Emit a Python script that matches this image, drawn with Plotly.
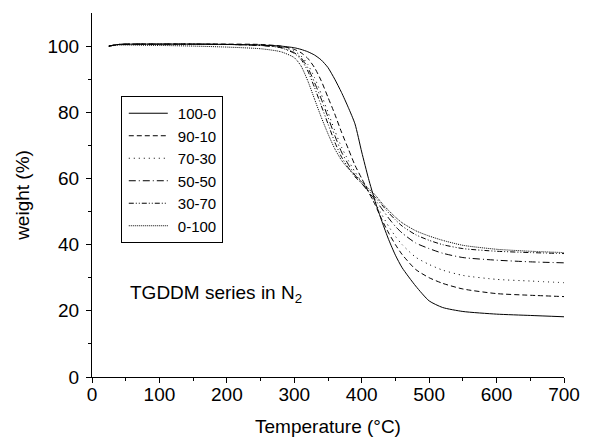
import plotly.graph_objects as go

temperature = [25, 40, 100, 150, 200, 250, 280, 300, 310, 320, 330, 340, 350, 360, 370, 380, 390,
               400, 410, 420, 430, 440, 450, 460, 480, 500, 520, 550, 600, 650, 700]

w_100_0 = [100.0, 100.5, 100.6, 100.6, 100.5, 100.3, 100.0, 99.5, 99.0, 98.3, 97.3, 95.8, 93.5, 90.0,
           86.0, 81.5, 76.5, 68.0, 60.0, 53.0, 47.0, 41.5, 36.8, 33.0, 27.5, 23.0, 21.0, 19.8, 19.0, 18.6, 18.2]
w_90_10 = [100.0, 100.5, 100.6, 100.6, 100.6, 100.5, 100.0, 99.0, 98.0, 96.3, 93.5, 89.5, 84.5, 79.5,
           74.0, 69.0, 64.0, 60.0, 56.0, 52.0, 47.5, 43.5, 40.0, 37.0, 32.5, 30.0, 28.3, 26.6, 25.2, 24.7, 24.3]
w_70_30 = [100.0, 100.5, 100.6, 100.6, 100.5, 100.3, 99.8, 98.5, 97.0, 94.5, 90.5, 85.5, 80.0, 74.5,
           69.5, 65.5, 62.0, 59.0, 56.0, 52.5, 49.0, 45.5, 42.5, 40.0, 36.2, 34.0, 32.3, 30.7, 29.5, 29.0, 28.5]
w_50_50 = [100.0, 100.5, 100.6, 100.6, 100.5, 100.2, 99.6, 98.0, 96.5, 93.5, 89.0, 84.0, 78.5, 73.0,
           68.0, 64.3, 61.0, 58.5, 56.0, 53.5, 50.8, 48.0, 45.5, 43.5, 40.5, 38.8, 37.4, 36.1, 35.3, 34.8, 34.5]
w_30_70 = [100.0, 100.5, 100.6, 100.6, 100.5, 100.2, 99.5, 97.8, 96.0, 92.5, 87.5, 82.0, 76.5, 71.0,
           66.5, 63.3, 60.5, 58.5, 56.5, 54.3, 52.0, 49.6, 47.5, 45.6, 43.0, 41.3, 40.0, 38.8, 38.0, 37.6, 37.3]
w_0_100 = [100.0, 100.3, 100.2, 100.0, 99.7, 99.2, 98.3, 96.5, 94.0, 89.5, 84.0, 78.5, 73.5, 69.0,
           65.5, 63.0, 61.0, 59.0, 57.0, 55.0, 52.5, 50.3, 48.3, 46.6, 44.2, 42.6, 41.3, 39.8, 38.6, 38.0, 37.6]

series_names = ["100-0", "90-10", "70-30", "50-50", "30-70", "0-100"]
series_values = [w_100_0, w_90_10, w_70_30, w_50_50, w_30_70, w_0_100]
dashes = ["solid", "5px,3px", "1px,4px", "7px,3px,1px,3px", "5px,2px,1px,2px,1px,2px", "1px,1px"]

x_ticks = [0, 100, 200, 300, 400, 500, 600, 700]
y_ticks = [0, 20, 40, 60, 80, 100]

FONT = "Arial, Liberation Sans, sans-serif"

fig = go.Figure()
for i, (name, vals, d) in enumerate(zip(series_names, series_values, dashes)):
    fig.add_trace(go.Scatter(
        x=temperature, y=vals, mode="lines", name=name,
        legendgroup=f"g{i}",
        line=dict(color="black", width=1, dash=d, shape="spline", smoothing=0.6),
    ))

fig.update_layout(
    width=607, height=448,
    margin=dict(l=92, r=43, t=13, b=71),
    paper_bgcolor="white", plot_bgcolor="white",
    font=dict(family=FONT, size=19, color="black"),
    showlegend=True,
    legend=dict(
        x=0.061, y=0.772, xanchor="left", yanchor="top",
        bordercolor="black", borderwidth=1, bgcolor="white",
        font=dict(family=FONT, size=15, color="black"),
        tracegroupgap=0, itemwidth=46,
    ),
    xaxis=dict(
        range=[0, 700], tickvals=x_ticks, ticktext=[str(v) for v in x_ticks],
        showgrid=False, zeroline=False, showline=True, linecolor="black", linewidth=1,
        ticks="outside", ticklen=5, tickcolor="black", tickwidth=1, automargin=False,
        ticklabelstandoff=-5,
        minor=dict(dtick=50, ticks="outside", ticklen=3, tickcolor="black", showgrid=False),
        title=dict(text="Temperature (°C)", font=dict(size=19), standoff=15),
        tickfont=dict(size=19),
    ),
    yaxis=dict(
        range=[0, 110], tickvals=y_ticks, ticktext=[str(v) for v in y_ticks],
        showgrid=False, zeroline=False, showline=True, linecolor="black", linewidth=1,
        ticks="outside", ticklen=5, tickcolor="black", tickwidth=1, automargin=False,
        ticklabelstandoff=3,
        minor=dict(tickvals=[10, 30, 50, 70, 90], ticks="outside", ticklen=3, tickcolor="black", showgrid=False),
        title=dict(text="weight (%)", font=dict(size=19), standoff=12),
        tickfont=dict(size=19),
    ),
    annotations=[dict(
        x=53, y=25, xref="x", yref="y", xanchor="left", yanchor="middle",
        text="TGDDM series in N<sub>2</sub>", showarrow=False,
        font=dict(family=FONT, size=19, color="black"),
    )],
)

post_js = (
    "document.body.style.margin='0';"
    "document.querySelectorAll('.legendlines path').forEach(function(p){p.setAttribute('d','M7,0h39');});"
)
fig.write_html("out.html", config={"displayModeBar": False}, post_script=post_js)
